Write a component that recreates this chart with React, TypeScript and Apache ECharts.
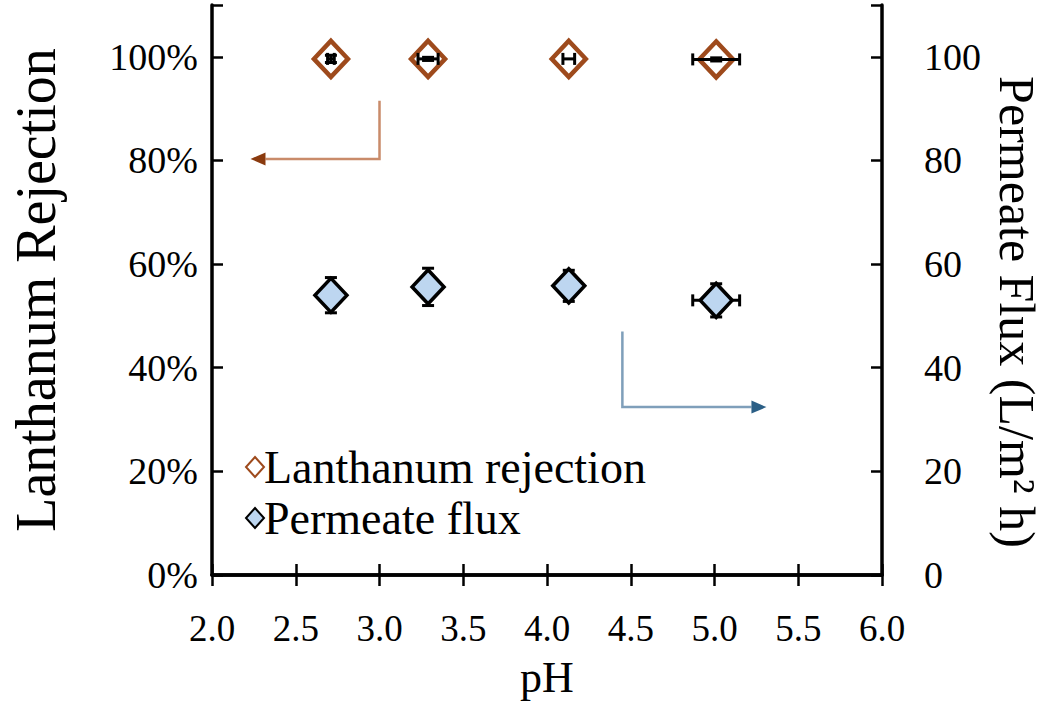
import React, { useEffect, useRef } from "react";
import * as echarts from "echarts";

// pH values of the four runs
const ph = [2.71, 3.29, 4.13, 5.01];
// Lanthanum rejection (%) and error bars
const rejection = [99.6, 99.6, 99.6, 99.5];
const rejectionErr = [0.7, 0.3, 0, 0.3];
const phErrRejection = [0.02, 0.06, 0.035, 0.14];
// Permeate flux (L/m2 h) and error bars
const flux = [54.0, 55.6, 55.8, 53.0];
const fluxErr = [3.4, 3.6, 3.0, 3.2];
const phErrFlux = [0, 0, 0, 0.14];
// Annotation arrows (data coords: [pH, %])
const arrowRejection = [[3.0, 91.5], [3.0, 80.3], [2.23, 80.3]];
const arrowFlux = [[4.45, 47], [4.45, 32.4], [5.31, 32.4]];

const BROWN = "#9E4A1C";
const FONT = "Liberation Serif";

function errRender(params: any, api: any) {
  const x = api.value(0);
  const y = api.value(1);
  const xe = api.value(2);
  const ye = api.value(3);
  const c = api.coord([x, y]);
  const style = { stroke: "#000", lineWidth: 3 };
  const cap = 6;
  const children: any[] = [];
  if (xe > 0) {
    const l = api.coord([x - xe, y]);
    const r = api.coord([x + xe, y]);
    children.push({ type: "line", shape: { x1: l[0], y1: c[1], x2: r[0], y2: c[1] }, style });
    children.push({ type: "line", shape: { x1: l[0], y1: c[1] - cap, x2: l[0], y2: c[1] + cap }, style });
    children.push({ type: "line", shape: { x1: r[0], y1: c[1] - cap, x2: r[0], y2: c[1] + cap }, style });
  }
  if (ye > 0) {
    const t = api.coord([x, y + ye]);
    const b = api.coord([x, y - ye]);
    children.push({ type: "line", shape: { x1: c[0], y1: t[1], x2: c[0], y2: b[1] }, style });
    children.push({ type: "line", shape: { x1: c[0] - cap, y1: t[1], x2: c[0] + cap, y2: t[1] }, style });
    children.push({ type: "line", shape: { x1: c[0] - cap, y1: b[1], x2: c[0] + cap, y2: b[1] }, style });
  }
  return { type: "group", children };
}

export default function App() {
  const ref = useRef<HTMLDivElement>(null);
  useEffect(() => {
    document.body.style.margin = "0";
    if (!ref.current) return;
    const chart = echarts.init(ref.current, null, { renderer: "svg" });
    const axisLine = { show: true, lineStyle: { color: "#000", width: 3.5 } };
    const axisTick = { show: true, inside: true, length: 11, lineStyle: { color: "#000", width: 2.5 } };
    const option: any = {
      animation: false,
      backgroundColor: "#fff",
      textStyle: { fontFamily: FONT, color: "#000" },
      grid: { left: 210, right: 167, top: 5, bottom: 138 },
      legend: {
        orient: "vertical",
        left: 245,
        top: 444,
        padding: 0,
        itemGap: 5,
        itemWidth: 18,
        itemHeight: 20,
        textStyle: { fontFamily: FONT, fontSize: 46, color: "#000", padding: [0, 0, 0, -5] },
        data: ["Lanthanum rejection", "Permeate flux"],
      },
      xAxis: [
        {
          type: "value",
          min: 2,
          max: 6,
          interval: 0.5,
          name: "pH",
          nameLocation: "middle",
          nameGap: 80,
          nameTextStyle: { fontFamily: FONT, fontSize: 44, color: "#000" },
          axisLine,
          axisTick,
          splitLine: { show: false },
          axisLabel: {
            fontFamily: FONT,
            fontSize: 37,
            color: "#000",
            margin: 35,
            formatter: (v: number) => v.toFixed(1),
          },
        },
        {
          type: "value",
          position: "top",
          min: 2,
          max: 6,
          interval: 0.5,
          axisLine,
          axisTick,
          axisLabel: { show: false },
          splitLine: { show: false },
        },
      ],
      yAxis: [
        {
          type: "value",
          min: 0,
          max: 110,
          interval: 20,
          name: "Lanthanum Rejection",
          nameLocation: "middle",
          nameGap: 148,
          nameTextStyle: { fontFamily: FONT, fontSize: 56, color: "#000" },
          axisLine,
          axisTick,
          splitLine: { show: false },
          axisLabel: {
            fontFamily: FONT,
            fontSize: 38,
            color: "#000",
            margin: 14,
            formatter: (v: number) => (v > 100 ? "" : v + "%"),
          },
        },
        {
          type: "value",
          position: "right",
          min: 0,
          max: 110,
          interval: 20,
          name: "Permeate Flux (L/m² h)",
          nameLocation: "middle",
          nameGap: 110,
          nameRotate: -90,
          nameTextStyle: { fontFamily: FONT, fontSize: 50, color: "#000", padding: [0, 0, 0, 44] },
          axisLine,
          axisTick,
          splitLine: { show: false },
          axisLabel: {
            fontFamily: FONT,
            fontSize: 38,
            color: "#000",
            margin: 42,
            formatter: (v: number) => (v > 100 ? "" : String(v)),
          },
        },
      ],
      series: [
        {
          name: "Permeate flux err",
          type: "custom",
          xAxisIndex: 0,
          yAxisIndex: 1,
          renderItem: errRender,
          z: 1,
          data: ph.map((p, i) => [p, flux[i], phErrFlux[i], fluxErr[i]]),
        },
        {
          name: "Permeate flux",
          type: "scatter",
          xAxisIndex: 0,
          yAxisIndex: 1,
          symbol: "diamond",
          symbolSize: [32, 34],
          z: 2,
          itemStyle: { color: "#bdd6f0", borderColor: "#000", borderWidth: 3.5, opacity: 1 },
          data: ph.map((p, i) => [p, flux[i]]),
        },
        {
          name: "Lanthanum rejection",
          type: "scatter",
          xAxisIndex: 0,
          yAxisIndex: 0,
          symbol: "diamond",
          symbolSize: [34, 36],
          z: 2,
          itemStyle: { color: "#fff", borderColor: BROWN, borderWidth: 4.5, opacity: 1 },
          data: ph.map((p, i) => [p, rejection[i]]),
        },
        {
          name: "Lanthanum rejection err",
          type: "custom",
          xAxisIndex: 0,
          yAxisIndex: 0,
          renderItem: errRender,
          z: 3,
          data: ph.map((p, i) => [p, rejection[i], phErrRejection[i], rejectionErr[i]]),
        },
      ],
    };
    chart.setOption(option);

    const toPx = (pts: number[][]) =>
      pts.map((p) => chart.convertToPixel({ xAxisIndex: 0, yAxisIndex: 0 }, p) as number[]);
    const arrow = (pts: number[][], lineColor: string, headColor: string) => {
      const px = toPx(pts);
      const [a, b] = [px[px.length - 2], px[px.length - 1]];
      const dir = Math.sign(b[0] - a[0]);
      const hl = 15;
      const hw = 6.5;
      const tip = b;
      const base = [tip[0] - dir * hl, tip[1]];
      return [
        {
          type: "polyline",
          shape: { points: [...px.slice(0, -1), base] },
          style: { stroke: lineColor, lineWidth: 2.5, fill: null },
          z: 10,
        },
        {
          type: "polygon",
          shape: { points: [tip, [base[0], base[1] - hw], [base[0], base[1] + hw]] },
          style: { fill: headColor },
          z: 10,
        },
      ];
    };
    chart.setOption({
      graphic: [
        ...arrow(arrowRejection, "#C98B6A", "#8A3A0E"),
        ...arrow(arrowFlux, "#7F9FBA", "#2B5F86"),
      ],
    });
    return () => chart.dispose();
  }, []);
  return <div ref={ref} style={{ width: 1050, height: 713 }} />;
}
